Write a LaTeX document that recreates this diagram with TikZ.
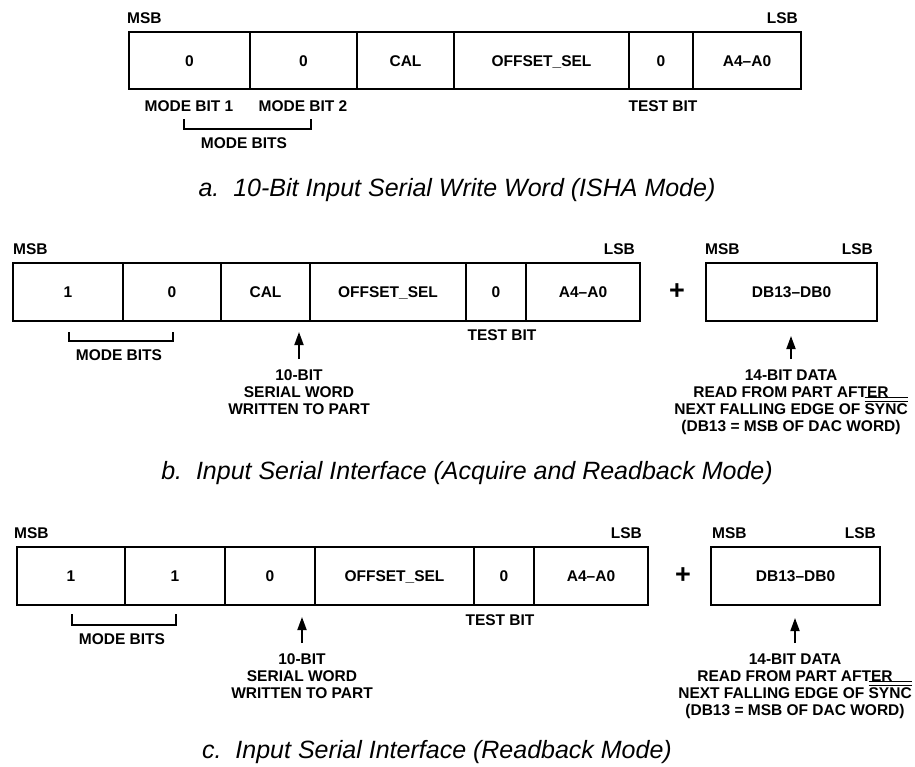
\documentclass[tikz,border=0pt]{standalone}
\usepackage{fontspec}
\setmainfont{Liberation Sans}
\usetikzlibrary{arrows.meta}

\newcommand{\lblfont}{\bfseries\fontsize{15.5}{17}\selectfont}
\newcommand{\capfont}{\itshape\fontsize{25}{30}\selectfont}
\newcommand{\notsig}[1]{\setbox0\hbox{#1}\rlap{\smash{\rule[\dimexpr\ht0+1.6pt\relax]{\wd0}{0.9pt}}}\rlap{\smash{\rule[\dimexpr\ht0+5.8pt\relax]{\wd0}{0.9pt}}}\box0}

\tikzset{
  cell/.style={draw, line width=1.7pt, inner sep=0pt, text height=11pt, text depth=0pt, font=\lblfont},
  lbl/.style={inner sep=0pt, font=\lblfont},
  note/.style={inner sep=0pt, align=center, font=\lblfont},
  plus/.style={inner sep=0pt, font=\bfseries\fontsize{27}{27}\selectfont},
  ptr/.style={line width=1.8pt, -{Triangle[length=13pt,width=9pt]}},
  brk/.style={line width=1.5pt},
  capt/.style={inner sep=0pt, font=\capfont},
}

\begin{document}
\begin{tikzpicture}[x=1pt, y=-1pt]
            \useasboundingbox (0,0) rectangle (915,766);
            % a
            \node[cell, minimum width=121pt, minimum height=57pt] (a1) at (189.5,60.5) {0};
            \node[cell, minimum width=107pt, minimum height=57pt] (a2) at (303.5,60.5) {0};
            \node[cell, minimum width=97pt, minimum height=57pt] (a3) at (405.5,60.5) {CAL};
            \node[cell, minimum width=175pt, minimum height=57pt] (a4) at (541.5,60.5) {OFFSET\_SEL};
            \node[cell, minimum width=64pt, minimum height=57pt] (a5) at (661,60.5) {0};
            \node[cell, minimum width=108pt, minimum height=57pt] (a6) at (747,60.5) {A4\textendash A0};
            \node[lbl, anchor=west] (amsb) at (127,18) {MSB};
            \node[lbl, anchor=east] (alsb) at (798,18) {LSB};
            \node[lbl] (amodeone) at (189,106) {MODE BIT 1};
            \node[lbl] (amodetwo) at (303,106) {MODE BIT 2};
            \node[lbl] (atest) at (663,106) {TEST BIT};
            \draw[brk] (184,119) |- (311,129) -- (311,119);
            \node[lbl] (amodes) at (244,143) {MODE BITS};
            \node[capt] (acap) at (457,190) {a.\ \ 10-Bit Input Serial Write Word (ISHA Mode)};
            % b
            \node[cell, minimum width=110pt, minimum height=58pt] (b1) at (68,292) {1};
            \node[cell, minimum width=98pt, minimum height=58pt] (b2) at (172,292) {0};
            \node[cell, minimum width=89pt, minimum height=58pt] (b3) at (265.5,292) {CAL};
            \node[cell, minimum width=156pt, minimum height=58pt] (b4) at (388,292) {OFFSET\_SEL};
            \node[cell, minimum width=60pt, minimum height=58pt] (b5) at (496,292) {0};
            \node[cell, minimum width=114pt, minimum height=58pt] (b6) at (583,292) {A4\textendash A0};
            \node[plus] (bplus) at (677,292) {+};
            \node[cell, minimum width=171pt, minimum height=58pt] (bdata) at (791.5,292) {DB13\textendash DB0};
            \node[lbl, anchor=west] (bmsb) at (13,249) {MSB};
            \node[lbl, anchor=east] (blsb) at (635,249) {LSB};
            \node[lbl, anchor=west] (bmsbd) at (705,249) {MSB};
            \node[lbl, anchor=east] (blsbd) at (873,249) {LSB};
            \draw[brk] (69,332) |- (173,341) -- (173,332);
            \node[lbl] (bmodes) at (119,355) {MODE BITS};
            \node[lbl] (btest) at (502,335) {TEST BIT};
            \node[note, anchor=north] (bword) at (299,369.5) {10-BIT\\SERIAL WORD\\WRITTEN TO PART};
            \node[note, anchor=north] (bread) at (791,369.5) {14-BIT DATA\\READ FROM PART AFTER\\NEXT FALLING EDGE OF \notsig{SYNC}\\(DB13 = MSB OF DAC WORD)};
            \coordinate (bwordtip) at (299,332);
            \coordinate (breadtip) at (791,336);
            \draw[ptr, shorten <=10.5pt] (bword.north) -- (bwordtip);
            \draw[ptr, shorten <=10.5pt] (bread.north) -- (breadtip);
            \node[capt] (bcap) at (467,473) {b.\ \ Input Serial Interface (Acquire and Readback Mode)};
            % c
            \node[cell, minimum width=108pt, minimum height=58pt] (c1) at (71,576) {1};
            \node[cell, minimum width=100pt, minimum height=58pt] (c2) at (175,576) {1};
            \node[cell, minimum width=90pt, minimum height=58pt] (c3) at (270,576) {0};
            \node[cell, minimum width=159pt, minimum height=58pt] (c4) at (394.5,576) {OFFSET\_SEL};
            \node[cell, minimum width=60pt, minimum height=58pt] (c5) at (504,576) {0};
            \node[cell, minimum width=114pt, minimum height=58pt] (c6) at (591,576) {A4\textendash A0};
            \node[plus] (cplus) at (683,576) {+};
            \node[cell, minimum width=169pt, minimum height=58pt] (cdata) at (795.5,576) {DB13\textendash DB0};
            \node[lbl, anchor=west] (cmsb) at (14,533) {MSB};
            \node[lbl, anchor=east] (clsb) at (642,533) {LSB};
            \node[lbl, anchor=west] (cmsbd) at (712,533) {MSB};
            \node[lbl, anchor=east] (clsbd) at (876,533) {LSB};
            \draw[brk] (72,614) |- (176,625) -- (176,614);
            \node[lbl] (cmodes) at (122,639) {MODE BITS};
            \node[lbl] (ctest) at (500,620) {TEST BIT};
            \node[note, anchor=north] (cword) at (302,653.5) {10-BIT\\SERIAL WORD\\WRITTEN TO PART};
            \node[note, anchor=north] (cread) at (795,653.5) {14-BIT DATA\\READ FROM PART AFTER\\NEXT FALLING EDGE OF \notsig{SYNC}\\(DB13 = MSB OF DAC WORD)};
            \coordinate (cwordtip) at (302,617);
            \coordinate (creadtip) at (795,618);
            \draw[ptr, shorten <=10.5pt] (cword.north) -- (cwordtip);
            \draw[ptr, shorten <=10.5pt] (cread.north) -- (creadtip);
            \node[capt] (ccap) at (437,752) {c.\ \ Input Serial Interface (Readback Mode)};
        \end{tikzpicture}
\end{document}
